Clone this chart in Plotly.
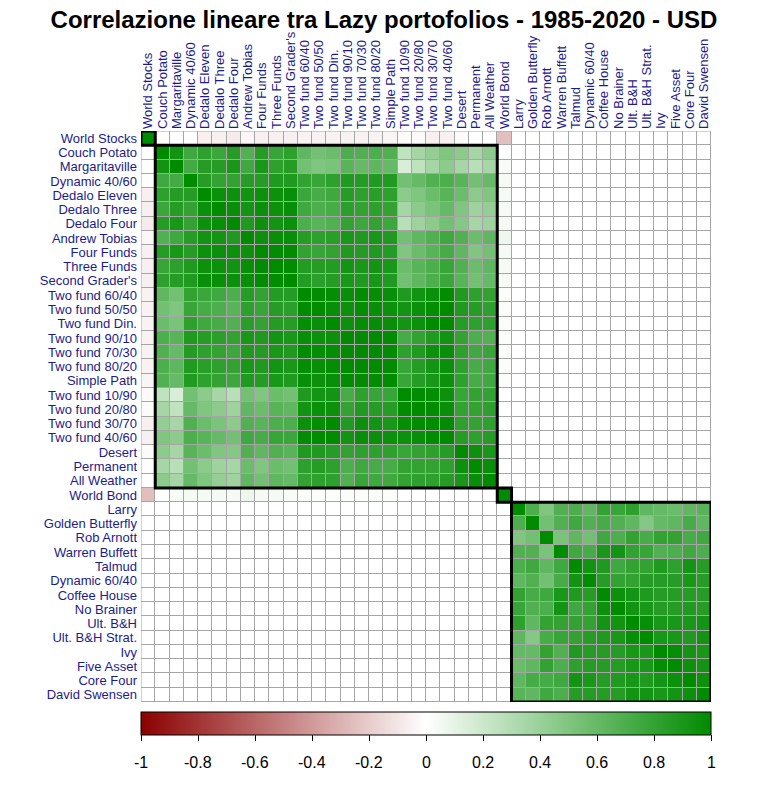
import plotly.graph_objects as go

labels = ["World Stocks", "Couch Potato", "Margaritaville", "Dynamic 40/60", "Dedalo Eleven",
          "Dedalo Three", "Dedalo Four", "Andrew Tobias", "Four Funds", "Three Funds",
          "Second Grader's", "Two fund 60/40", "Two fund 50/50", "Two fund Din.", "Two fund 90/10",
          "Two fund 70/30", "Two fund 80/20", "Simple Path", "Two fund 10/90", "Two fund 20/80",
          "Two fund 30/70", "Two fund 40/60", "Desert", "Permanent", "All Weather", "World Bond",
          "Larry", "Golden Butterfly", "Rob Arnott", "Warren Buffett", "Talmud", "Dynamic 60/40",
          "Coffee House", "No Brainer", "Ult. B&H", "Ult. B&H Strat.", "Ivy", "Five Asset",
          "Core Four", "David Swensen"]

# lower triangle rows, first group (items 1-26)
group_a = [
    [1],
    [0, 1],
    [0, .93, 1],
    [0, .75, .73, 1],
    [-.06, .82, .85, .85, 1],
    [-.06, .77, .85, .8, .96, 1],
    [-.08, .85, .9, .8, .95, .97, 1],
    [-.03, .68, .75, .85, .93, .92, .88, 1],
    [-.06, .85, .9, .85, .95, .96, .95, .95, 1],
    [-.06, .78, .82, .88, .95, .95, .93, .97, .99, 1],
    [-.06, .82, .85, .88, .97, .97, .96, .97, .99, .99, 1],
    [-.05, .62, .55, .8, .77, .75, .7, .85, .8, .86, .86, 1],
    [-.05, .55, .5, .78, .72, .7, .65, .82, .78, .85, .83, .99, 1],
    [-.05, .58, .52, .82, .75, .72, .68, .84, .8, .86, .85, .98, .97, 1],
    [-.05, .7, .65, .88, .85, .83, .8, .9, .88, .92, .9, .97, .95, .95, 1],
    [-.05, .68, .6, .86, .82, .8, .76, .88, .86, .9, .88, .99, .98, .98, .99, 1],
    [-.05, .7, .63, .87, .84, .82, .8, .9, .88, .92, .9, .98, .97, .98, 1, 1, 1],
    [-.04, .68, .6, .87, .82, .8, .76, .88, .86, .9, .88, .97, .95, .97, .99, .99, .99, 1],
    [-.02, .25, .15, .55, .45, .35, .28, .55, .5, .58, .55, .88, .92, .92, .72, .82, .78, .78, 1],
    [-.02, .35, .25, .6, .5, .45, .38, .62, .58, .65, .62, .93, .96, .95, .8, .87, .85, .85, .99, 1],
    [-.06, .42, .35, .68, .58, .52, .45, .68, .65, .7, .7, .96, .98, 1, .87, .95, .92, .9, .98, .99, 1],
    [-.06, .5, .45, .7, .65, .6, .55, .75, .72, .78, .77, .99, 1, 1, .93, .97, .96, .95, .95, .97, .99, 1],
    [-.02, .45, .35, .65, .58, .5, .48, .68, .62, .68, .65, .88, .88, .85, .8, .82, .82, .82, .78, .8, .82, .85, 1],
    [0, .35, .28, .55, .45, .38, .35, .58, .5, .58, .55, .82, .85, .82, .7, .75, .72, .72, .8, .8, .8, .82, .95, 1],
    [0, .45, .35, .6, .5, .42, .38, .62, .55, .62, .6, .8, .82, .82, .68, .78, .75, .75, .8, .82, .82, .85, .9, .97, 1],
    [-.25, 0, .03, .04, .04, .04, .04, .07, .04, .04, .03, .02, .02, .02, .02, .02, .02, .02, 0, 0, 0, 0, 0, 0, 0, 1],
]

# lower triangle rows, second group (items 27-40)
group_b = [
    [1],
    [.7, 1],
    [.5, .55, 1],
    [.68, .68, .52, 1],
    [.7, .75, .62, .75, 1],
    [.62, .68, .55, .72, .93, 1],
    [.8, .72, .75, .9, .88, .85, 1],
    [.78, .68, .7, .92, .75, .8, .95, 1],
    [.82, .62, .8, .8, .8, .8, .92, .93, 1],
    [.62, .48, .72, .78, .8, .85, .88, .9, .97, 1],
    [.6, .6, .8, .68, .88, .85, .85, .85, .9, .9, 1],
    [.58, .62, .8, .7, .82, .85, .85, .85, .9, .9, .98, 1],
    [.62, .72, .72, .75, .92, .9, .85, .88, .9, .88, .92, .95, 1],
    [.65, .62, .75, .7, .85, .85, .85, .85, .92, .92, .9, .92, .95, 1],
]

# correlation between the two groups (all white cells)
cross_value = 0.0

cbar_vals = [-1, -0.8, -0.6, -0.4, -0.2, 0, 0.2, 0.4, 0.6, 0.8, 1]
cbar_text = ["-1", "-0.8", "-0.6", "-0.4", "-0.2", "0", "0.2", "0.4", "0.6", "0.8", "1"]

n = len(labels)
na = len(group_a)
z = [[cross_value] * n for _ in range(n)]
for i, row in enumerate(group_a):
    for j, v in enumerate(row):
        z[i][j] = v
        z[j][i] = v
for i, row in enumerate(group_b):
    for j, v in enumerate(row):
        z[na + i][na + j] = v
        z[na + j][na + i] = v

W, H = 768, 796
ML, MR, MT, MB = 141, 57, 131, 94
plot_h = H - MT - MB

idx = list(range(n))
fig = go.Figure(go.Heatmap(
    z=z, x=idx, y=idx, zmin=-1, zmax=1,
    colorscale=[[0, "#8B0000"], [0.5, "#FFFFFF"], [1, "#008B00"]],
    xgap=1, ygap=1,
    colorbar=dict(
        orientation="h", x=0.5, xanchor="center", y=-10 / plot_h, yanchor="top",
        len=1, lenmode="fraction", thickness=23, xpad=0, ypad=0,
        outlinewidth=1, outlinecolor="black",
        tickvals=cbar_vals, ticktext=[""] * len(cbar_vals),
        ticks="outside", ticklen=6, tickcolor="black",
        tickfont=dict(family="Liberation Sans, Arial", size=16, color="black"),
    ),
))

annotations = []
for v, t in zip(cbar_vals, cbar_text):
    annotations.append(dict(text=t, x=(v + 1) / 2, xref="paper", xanchor="center",
                            y=-60 / plot_h, yref="paper", yanchor="middle", showarrow=False,
                            font=dict(family="Liberation Sans, Arial", size=16, color="black")))

grey = "#A6A6A6"
shapes = [dict(type="rect", xref="x", yref="y", x0=-0.5, x1=n - 0.5, y0=-0.5, y1=n - 0.5,
               line=dict(color=grey, width=1), fillcolor="rgba(0,0,0,0)")]
clusters = [(0, 0), (1, 24), (25, 25), (26, 39)]
for a, b in clusters:
    shapes.append(dict(type="rect", xref="x", yref="y", x0=a - 0.5, x1=b + 0.5,
                       y0=a - 0.5, y1=b + 0.5, line=dict(color="black", width=3),
                       fillcolor="rgba(0,0,0,0)"))

label_font = dict(family="Liberation Sans, Arial", size=13, color="#1C1C8A")
fig.update_layout(
    width=W, height=H,
    margin=dict(l=ML, r=MR, t=MT, b=MB, autoexpand=False),
    paper_bgcolor="white", plot_bgcolor=grey,
    title=dict(text="<b>Correlazione lineare tra Lazy portofolios - 1985-2020 - USD</b>",
               x=0.5, xref="container", xanchor="center", y=0.975, yref="container", yanchor="middle",
               font=dict(family="Liberation Sans, Arial", size=24, color="black")),
    xaxis=dict(side="top", tickmode="array", tickvals=idx, ticktext=labels, tickangle=-90,
               range=[-0.5, n - 0.5], showgrid=False, zeroline=False, tickfont=label_font,
               ticks="", showline=False, ticklabelstandoff=1),
    yaxis=dict(tickmode="array", tickvals=idx, ticktext=labels, autorange=False,
               range=[n - 0.5, -0.5], showgrid=False, zeroline=False, tickfont=label_font,
               ticks="", showline=False, ticklabelstandoff=3),
    shapes=shapes,
    annotations=annotations,
)
fig.write_html("out.html")
